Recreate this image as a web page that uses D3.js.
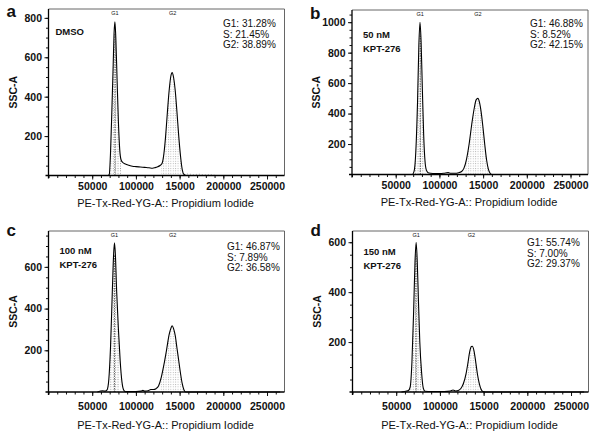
<!DOCTYPE html>
<html>
<head>
<meta charset="utf-8">
<script src="https://cdn.jsdelivr.net/npm/d3@7"></script>
<style>
  body { margin: 0; background: #fff; }
  svg text { font-family: "Liberation Sans", Arial, sans-serif; fill: #111; }
</style>
</head>
<body>
<svg id="chart" width="601" height="437"></svg>
<script>
// PI intensity is kept in thousands here
const xTicks = [50, 100, 150, 200, 250];
const xTickLabels = ['50000', '100000', '15000', '200000', '250000'];
const panelLetters = ['a', 'b', 'c', 'd'];
const treatments = [['DMSO'], ['50 nM', 'KPT-276'], ['100 nM', 'KPT-276'], ['150 nM', 'KPT-276']];
const g1Share = ['31.28%', '46.88%', '46.87%', '55.74%'];
const sShare = ['21.45%', '8.52%', '7.89%', '7.00%'];
const g2Share = ['38.89%', '42.15%', '36.58%', '29.37%'];
const yTicks = [[200, 400, 600, 800], [200, 400, 600, 800, 1000], [200, 400, 600], [200, 400, 600]];
const yMax = [845, 1080, 772, 645];
const g1Centers = [76, 78, 75.5, 72.8];
const g2Centers = [142, 144, 142, 136];
const g1Gates = [[70, 83], [72, 84], [69, 82], [66, 79]];
const g2Gates = [[129, 155], [128, 158], [127, 155], [125, 148]];

const dmsoCounts = [
  [60, 0], [68, 0], [69.5, 5], [71, 120], [72.5, 330], [74, 560], [75, 720], [76, 780],
  [77, 700], [78.5, 480], [80, 270], [81.5, 130], [83, 80], [85, 66], [88, 58], [92, 52],
  [96, 47], [100, 45], [105, 43], [110, 41], [115, 39], [119, 37], [122, 40], [125, 45],
  [128, 52], [130, 62], [132, 110], [134, 200], [136, 320], [138, 430], [140, 505],
  [141.5, 522], [143, 500], [145, 430], [147, 320], [149, 200], [151, 100], [153, 30],
  [155, 5], [158, 0], [265, 0]
];
const dmsoTail = [[155, 6], [160, 8], [166, 4], [172, 7], [178, 3], [185, 5], [190, 2]];
const kpt50Counts = [
  [60, 0], [69, 0], [71, 20], [73, 150], [75, 480], [76.5, 850], [77.8, 1000], [79, 880],
  [80.5, 560], [82, 260], [83.5, 90], [85, 30], [87, 12], [90, 8], [95, 6], [100, 6],
  [105, 8], [110, 12], [113, 8], [118, 8], [122, 12], [125, 18], [128, 40], [131, 100],
  [134, 200], [137, 330], [140, 440], [142, 490], [144, 500], [146, 470], [148, 400],
  [150, 300], [152, 190], [154, 95], [156, 35], [158, 8], [160, 0], [265, 0]
];
const kpt100Counts = [
  [56, 0], [62, 6], [65, 4], [67, 10], [69, 60], [71, 220], [73, 480], [74.5, 660],
  [75.5, 715], [76.5, 660], [78, 480], [80, 300], [82, 150], [84, 50], [86, 10], [88, 2],
  [100, 2], [106, 4], [108, 8], [110, 4], [114, 6], [117, 12], [120, 12], [123, 16],
  [126, 30], [129, 70], [132, 130], [135, 200], [138, 275], [140, 305], [141.5, 318],
  [143, 305], [145, 270], [147, 210], [149, 150], [151, 90], [153, 40], [155, 10],
  [157, 0], [265, 0]
];
const kpt150Counts = [
  [56, 0], [62, 4], [64, 6], [66, 20], [68, 120], [70, 330], [71.5, 520], [72.8, 600],
  [74, 530], [75.5, 360], [77, 200], [79, 80], [81, 15], [83, 3], [90, 2], [105, 2],
  [112, 4], [115, 8], [118, 4], [121, 6], [124, 14], [127, 35], [130, 75], [132, 115],
  [134, 160], [136, 182], [137, 183], [139, 165], [141, 120], [143, 70], [145, 35],
  [147, 12], [149, 2], [152, 0], [265, 0]
];
const panelCounts = [dmsoCounts, kpt50Counts, kpt100Counts, kpt150Counts];

// frame geometry for each panel
const W = 236;
const frames = [
  { left: 48.5, top: 9, bottom: 175.5, letterDy: 8, treatDx: 7, treatDy: 26, statsDx: 174.5, statsDy: 18, tickDy: 15, titleDy: 31 },
  { left: 352, top: 10, bottom: 174.5, letterDy: 9, treatDx: 11, treatDy: 28, statsDx: 178, statsDy: 17, tickDy: 15, titleDy: 31 },
  { left: 48.5, top: 231, bottom: 392, letterDy: 5, treatDx: 11, treatDy: 23, statsDx: 178.5, statsDy: 19, tickDy: 19, titleDy: 37 },
  { left: 352.5, top: 231, bottom: 392, letterDy: 5, treatDx: 11, treatDy: 24, statsDx: 174.5, statsDy: 15, tickDy: 19, titleDy: 37 }
];

const svg = d3.select('#chart');

const defs = svg.append('defs');
defs.append('pattern')
  .attr('id', 'dots')
  .attr('width', 2.4)
  .attr('height', 2.4)
  .attr('patternUnits', 'userSpaceOnUse')
  .append('rect')
  .attr('width', 0.9)
  .attr('height', 0.9)
  .attr('fill', '#777');

frames.forEach((f, i) => {
  const x = d3.scaleLinear().domain([0, 270]).range([f.left, f.left + W]);
  const y = d3.scaleLinear().domain([0, yMax[i]]).range([f.bottom, f.top]);
  const g = svg.append('g');
  const counts = panelCounts[i];

  // gate fills under the histogram
  const area = d3.area()
    .x(d => x(d[0]))
    .y0(y(0))
    .y1(d => y(d[1]))
    .curve(d3.curveMonotoneX);

  [g1Gates[i], g2Gates[i]].forEach((gate, k) => {
    const clipId = `clip-${i}-${k}`;
    defs.append('clipPath').attr('id', clipId)
      .append('rect')
      .attr('x', x(gate[0]))
      .attr('y', f.top)
      .attr('width', x(gate[1]) - x(gate[0]))
      .attr('height', f.bottom - f.top);
    g.append('path')
      .datum(counts)
      .attr('clip-path', `url(#${clipId})`)
      .attr('fill', 'url(#dots)')
      .attr('opacity', k === 0 ? 0.9 : 0.6)
      .attr('d', area);
  });

  // G1 centre line
  const g1Peak = d3.max(counts.filter(d => d[0] >= g1Gates[i][0] && d[0] <= g1Gates[i][1]), d => d[1]);
  g.append('line')
    .attr('x1', x(g1Centers[i])).attr('x2', x(g1Centers[i]))
    .attr('y1', y(0)).attr('y2', y(g1Peak * 0.92))
    .attr('stroke', '#444')
    .attr('stroke-width', 0.8)
    .attr('stroke-dasharray', '1.5,1');

  if (i === 0) {
    g.append('path')
      .datum(dmsoTail)
      .attr('fill', 'none')
      .attr('stroke', '#999')
      .attr('stroke-width', 0.8)
      .attr('stroke-dasharray', '1,2')
      .attr('d', d3.line().x(d => x(d[0])).y(d => y(d[1])));
  }

  // histogram
  g.append('path')
    .datum(counts)
    .attr('fill', 'none')
    .attr('stroke', '#000')
    .attr('stroke-width', 1.1)
    .attr('stroke-linejoin', 'round')
    .attr('d', d3.line().x(d => x(d[0])).y(d => y(d[1])).curve(d3.curveMonotoneX));

  // frame: top and right thin, axes heavier
  g.append('path')
    .attr('d', `M${f.left},${f.top}H${f.left + W}V${f.bottom}`)
    .attr('fill', 'none')
    .attr('stroke', '#555')
    .attr('stroke-width', 0.9);

  const xMinor = d3.axisBottom(x).tickValues(d3.range(0, 270, 10)).tickSize(2.5).tickFormat('');
  const xMajor = d3.axisBottom(x).tickValues(xTicks).tickSize(4).tickPadding(f.tickDy - 12)
    .tickFormat((d, j) => xTickLabels[j]);
  g.append('g').attr('transform', `translate(0,${f.bottom})`).call(xMinor)
    .call(a => a.select('.domain').remove());
  const xg = g.append('g').attr('transform', `translate(0,${f.bottom})`).call(xMajor)
    .call(a => a.select('.domain').remove());
  xg.selectAll('text')
    .attr('font-size', 10.5)
    .attr('font-weight', 'bold')
    .attr('fill', '#111');

  const yMinor = d3.axisLeft(y).tickValues(d3.range(50, yMax[i], 50)).tickSize(2.5).tickFormat('');
  const yMajor = d3.axisLeft(y).tickValues(yTicks[i]).tickSize(4).tickPadding(2.5)
    .tickFormat(d => String(d));
  g.append('g').attr('transform', `translate(${f.left},0)`).call(yMinor)
    .call(a => a.select('.domain').remove());
  const yg = g.append('g').attr('transform', `translate(${f.left},0)`).call(yMajor)
    .call(a => a.select('.domain').remove());
  yg.selectAll('text')
    .attr('font-size', 10.5)
    .attr('font-weight', 'bold')
    .attr('fill', '#111');
  g.selectAll('.tick line').attr('stroke', '#111');

  // axis lines crossing at the corner
  g.append('line')
    .attr('x1', f.left - 3).attr('x2', f.left + W)
    .attr('y1', f.bottom).attr('y2', f.bottom)
    .attr('stroke', '#000').attr('stroke-width', 1.3);
  g.append('line')
    .attr('x1', f.left).attr('x2', f.left)
    .attr('y1', f.top).attr('y2', f.bottom + 3)
    .attr('stroke', '#000').attr('stroke-width', 1.3);

  // gate labels on top
  [['G1', g1Centers[i]], ['G2', g2Centers[i]]].forEach(([t, c]) => {
    g.append('text')
      .attr('x', x(c))
      .attr('y', f.top + 6)
      .attr('text-anchor', 'middle')
      .attr('font-size', 5.5)
      .attr('font-family', '"Liberation Serif", serif')
      .text(t);
  });

  // panel letter
  g.append('text')
    .attr('x', f.left - 42)
    .attr('y', f.top + f.letterDy)
    .attr('font-size', 17)
    .attr('font-weight', 'bold')
    .text(panelLetters[i]);

  // treatment label
  treatments[i].forEach((t, j) => {
    g.append('text')
      .attr('x', f.left + f.treatDx)
      .attr('y', f.top + f.treatDy + j * 14)
      .attr('font-family', 'Lato, "Open Sans", sans-serif')
      .attr('font-weight', 'bold')
      .attr('font-size', 9.5)
      .text(t);
  });

  // cell cycle shares
  [`G1: ${g1Share[i]}`, `S: ${sShare[i]}`, `G2: ${g2Share[i]}`].forEach((t, j) => {
    g.append('text')
      .attr('x', f.left + f.statsDx)
      .attr('y', f.top + f.statsDy + j * 10.5)
      .attr('font-size', 10)
      .text(t);
  });

  // axis titles
  g.append('text')
    .attr('transform', `translate(${f.left - 32},${(f.top + f.bottom) / 2}) rotate(-90)`)
    .attr('text-anchor', 'middle')
    .attr('font-size', 10.5)
    .attr('font-weight', 'bold')
    .text('SSC-A');
  g.append('text')
    .attr('x', f.left + 117)
    .attr('y', f.bottom + f.titleDy)
    .attr('text-anchor', 'middle')
    .attr('font-size', 11)
    .text('PE-Tx-Red-YG-A:: Propidium Iodide');
});
</script>
</body>
</html>
